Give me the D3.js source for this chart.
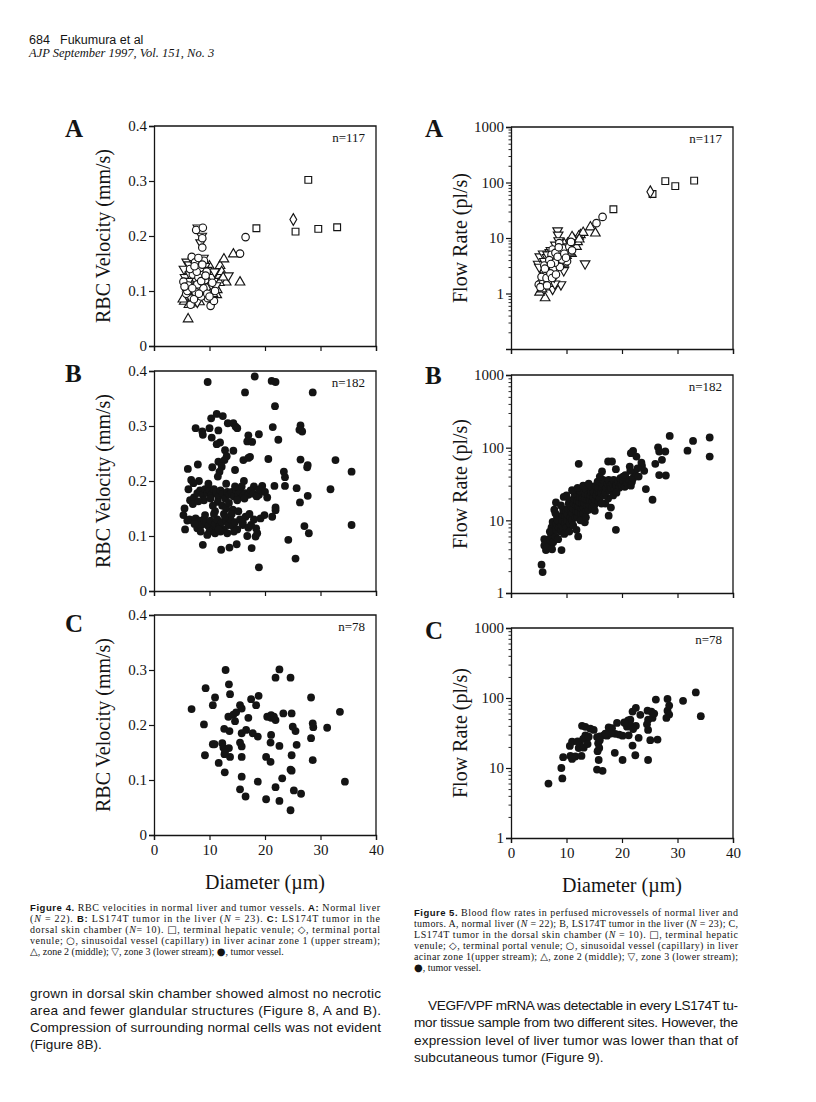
<!DOCTYPE html>
<html><head><meta charset="utf-8">
<script src="https://cdn.jsdelivr.net/npm/d3@7"></script>
<style>body{margin:0;background:#fff}svg{display:block}</style>
</head><body>
<script>
// ---------- DATA (diameter µm, value) ----------
// Fig 4A normal liver, RBC velocity (mm/s)
const velA_square = [[27.8,0.302],[18.45,0.214],[25.5,0.208],[29.6,0.213],[33.0,0.216]];
const velA_diamond = [[25.1,0.230]];
const velA_circle = [[16.5,0.198],[15.5,0.168],[5.3,0.117],[6.8,0.162],[7.4,0.152],[6.6,0.075],[10.2,0.073],[9.7,0.087],[7.6,0.211],[8.8,0.215],[8.7,0.196],[8.7,0.179],[7.0,0.13],[8.0,0.125],[8.3,0.142],[9.2,0.12],[6.2,0.11],[7.5,0.098],[8.9,0.105],[9.5,0.135],[10.5,0.115],[7.2,0.085],[8.5,0.09],[6.5,0.14],[9.0,0.155],[8.0,0.16],[11.0,0.1],[7.8,0.112],[5.8,0.095],[6.0,0.1],[7.7,0.135],[8.5,0.118],[9.6,0.095],[10.8,0.082],[6.9,0.105],[8.1,0.095],[9.3,0.128],[5.5,0.108],[7.3,0.145],[8.7,0.148],[10.0,0.09]];
const velA_triUp = [[6.15,0.049],[5.45,0.081],[5.8,0.09],[11.3,0.093],[10.25,0.132],[11.0,0.12],[11.9,0.146],[12.6,0.158],[13.0,0.116],[14.3,0.167],[15.5,0.116],[9.8,0.128],[10.8,0.108],[10.3,0.1],[9.5,0.112],[8.2,0.08],[7.0,0.078],[6.0,0.105],[8.6,0.1],[11.5,0.128],[12.2,0.135],[10.0,0.145],[9.0,0.09],[6.4,0.12],[7.4,0.14],[5.2,0.085],[6.7,0.093],[7.9,0.09],[9.1,0.105],[10.6,0.095],[11.8,0.115],[12.5,0.125],[8.8,0.125],[7.5,0.105],[6.3,0.075],[9.9,0.118],[11.4,0.102]];
const velA_triDown = [[7.9,0.215],[8.4,0.188],[8.6,0.2],[8.9,0.16],[5.9,0.153],[6.3,0.148],[13.4,0.128],[7.2,0.125],[6.0,0.135],[8.0,0.105],[9.4,0.1],[10.5,0.125],[7.6,0.118],[6.8,0.1],[9.8,0.108],[8.3,0.132],[11.2,0.11],[5.6,0.125],[7.0,0.155],[9.2,0.145],[6.6,0.088],[5.4,0.14],[6.5,0.13],[7.5,0.092],[8.7,0.112],[9.6,0.138],[10.3,0.112],[7.1,0.108],[8.1,0.142],[9.0,0.118],[6.2,0.118],[7.8,0.08],[10.9,0.135]];

// Fig 4B LS174T tumor in liver, RBC velocity
const velB = [[9.67,0.38],[18.15,0.39],[21.2,0.382],[21.9,0.380],[16.4,0.361],[28.6,0.361],[21.8,0.336],
[10.3,0.314],[11.3,0.322],[12.4,0.318],[7.5,0.296],[8.7,0.29],[8.8,0.284],[10.0,0.296],[11.6,0.292],[10.4,0.279],[11.9,0.27],[11.3,0.267],[13.3,0.305],[14.3,0.305],[14.7,0.299],[15.0,0.296],[17.0,0.283],[18.9,0.285],[16.8,0.272],[17.7,0.271],[21.4,0.298],[22.4,0.275],[26.4,0.301],[26.2,0.293],[26.7,0.29],
[6.1,0.222],[7.9,0.23],[12.8,0.256],[14.3,0.255],[13.1,0.245],[12.7,0.238],[11.6,0.235],[12.2,0.226],[11.8,0.217],[11.5,0.208],[14.6,0.22],[16.1,0.238],[17.3,0.244],[17.0,0.242],[20.6,0.24],[23.4,0.217],[23.6,0.207],[26.4,0.239],[27.7,0.229],[27.6,0.225],[32.7,0.238],[35.6,0.217],
[6.7,0.202],[8.1,0.2],[7.1,0.196],[16.2,0.2],[18.0,0.19],[19.5,0.191],[21.7,0.191],[23.6,0.191],[25.7,0.187],[27.7,0.173],[31.8,0.185],[21.9,0.152],[26.3,0.161],[35.6,0.12],[27.1,0.118],[27.9,0.105],[24.2,0.093],[25.5,0.059],[18.9,0.043],[17.6,0.078],[18.3,0.099],[18.4,0.114],[19.2,0.132],[19.9,0.138],[21.9,0.147],[21.3,0.135],[20.4,0.17],[18.9,0.175],
[6.5,0.165],[7.2,0.17],[7.8,0.178],[8.3,0.183],[8.8,0.175],[9.2,0.185],[9.6,0.178],[10.0,0.183],[10.4,0.176],[10.8,0.185],[11.2,0.18],[11.6,0.172],[12.0,0.183],[12.4,0.177],[12.8,0.168],[13.2,0.18],[13.6,0.175],[14.0,0.18],[14.4,0.172],[14.8,0.183],[15.2,0.176],[15.6,0.18],[16.0,0.172],[16.5,0.178],[17.0,0.175],[17.4,0.183],[17.9,0.177],[18.5,0.172],[9.0,0.165],[10.2,0.168],[11.5,0.162],[12.3,0.155],[13.0,0.15],[13.5,0.16],[14.2,0.148],[7.0,0.158],[8.0,0.163],[10.6,0.155],[11.0,0.145],[12.6,0.14],[15.0,0.165],[16.3,0.168],
[5.5,0.15],[5.3,0.138],[5.6,0.112],[7.8,0.114],[8.8,0.084],[12.1,0.075],[13.6,0.079],[14.9,0.085],[6.4,0.13],[7.0,0.128],[7.5,0.132],[8.2,0.128],[8.6,0.12],[9.0,0.13],[9.4,0.125],[9.8,0.118],[10.2,0.128],[10.6,0.112],[11.0,0.122],[11.4,0.13],[11.8,0.118],[12.2,0.125],[12.6,0.112],[13.0,0.128],[13.4,0.12],[13.8,0.13],[14.2,0.118],[14.6,0.125],[15.0,0.112],[15.5,0.13],[16.0,0.12],[16.5,0.135],[17.0,0.115],[17.5,0.12],[10.0,0.108],[11.0,0.105],[12.0,0.108],[13.2,0.105],[14.4,0.108],[9.2,0.138],[10.8,0.14],[12.8,0.135],[14.0,0.14],[15.2,0.145],[6.0,0.128],[8.4,0.108],[16.8,0.1],[18.0,0.13],[17.2,0.14],[11.6,0.112],[9.6,0.102],[7.3,0.122],
[19.0,0.185],[20.0,0.18],[15.8,0.19],[14.6,0.19],[6.2,0.185],[9.8,0.195],[13.0,0.195],[10.5,0.225],[16.0,0.125],[18.6,0.105]];

// Fig 4C LS174T tumor in dorsal skin chamber, RBC velocity
const velC = [[6.77,0.229],[9.3,0.267],[9.0,0.201],[9.18,0.145],[11.0,0.25],[10.6,0.236],[10.6,0.165],[11.66,0.131],[12.9,0.3],[13.5,0.274],[13.7,0.256],[12.3,0.167],[12.5,0.159],[12.65,0.193],[12.7,0.147],[12.75,0.114],[13.4,0.215],[13.6,0.189],[13.5,0.158],[14.3,0.219],[14.6,0.207],[15.5,0.236],[15.8,0.23],[15.8,0.185],[15.8,0.161],[15.5,0.168],[15.8,0.142],[15.8,0.106],[15.5,0.083],[16.5,0.07],[17.0,0.213],[16.6,0.191],[17.5,0.247],[18.4,0.236],[18.85,0.253],[17.8,0.185],[18.7,0.179],[18.7,0.097],[20.2,0.142],[20.2,0.065],[20.4,0.215],[21.1,0.218],[21.1,0.213],[21.1,0.182],[21.0,0.168],[21.0,0.133],[21.9,0.286],[22.6,0.301],[21.9,0.209],[21.9,0.087],[22.6,0.162],[22.6,0.062],[23.3,0.221],[23.1,0.103],[24.6,0.286],[24.8,0.221],[24.8,0.145],[24.6,0.119],[24.8,0.117],[24.6,0.045],[25.0,0.197],[25.5,0.189],[25.2,0.081],[25.7,0.164],[26.5,0.075],[28.3,0.25],[28.3,0.176],[28.6,0.203],[28.7,0.196],[28.6,0.136],[31.2,0.195],[33.5,0.224],[34.4,0.097],[14.8,0.223],[10.9,0.165],[12.8,0.151],[21.6,0.215],[13.7,0.142]];

// Fig 5A normal liver, flow rate (pl/s)
const flowA_square = [[18.45,33],[25.5,62],[27.8,106],[29.6,86],[33.0,108]];
const flowA_diamond = [[25.1,68]];
const flowA_circle = [[16.5,24],[15.4,18.5],[5.0,1.45],[5.8,1.55],[6.6,1.6],[7.5,6.2],[8.7,8.1],[9.8,5.7],[10.1,3.8],[6.2,2.2],[7.0,3.0],[7.8,4.2],[8.2,3.5],[9.0,4.8],[6.8,2.6],[7.3,5.0],[8.5,5.8],[9.4,6.5],[5.5,2.0],[6.0,3.2],[7.6,2.8],[8.8,3.0],[10.5,7.0],[11.0,6.0],[6.4,1.9],[7.1,2.3],[8.0,5.4],[9.2,4.1],[5.3,1.3],[6.9,4.0],[7.9,3.6],[8.4,4.6],[9.6,5.2],[10.8,8.5],[6.1,2.8],[7.4,1.9],[8.6,6.8],[9.9,4.4],[7.2,3.4],[8.1,2.2],[6.5,1.4]];
const flowA_triUp = [[6.15,0.83],[5.15,1.05],[14.3,15.7],[15.2,12.2],[12.5,11.4],[12.2,10.7],[13.0,12.5],[11.6,8.7],[10.9,5.2],[11.3,9.5],[10.5,6.0],[9.8,7.0],[9.2,6.0],[8.5,3.8],[7.7,2.5],[7.0,1.8],[6.4,1.3],[5.6,1.2],[8.0,4.5],[9.5,3.5],[10.2,8.0],[11.8,7.0],[12.0,8.5],[6.8,3.5],[7.5,4.8],[8.8,5.5],[10.0,4.8],[11.0,10.5],[5.9,2.4],[6.6,2.0],[7.3,3.0],[8.3,6.5],[9.0,3.2],[10.6,5.5],[12.3,9.5],[9.6,7.8],[5.3,1.6]];
const flowA_triDown = [[13.35,3.45],[8.4,13.6],[8.5,11.4],[4.9,3.4],[5.2,4.6],[5.8,5.2],[7.5,1.2],[9.0,1.45],[7.9,1.5],[6.5,4.5],[7.0,5.5],[8.0,7.5],[8.6,9.0],[9.3,7.0],[6.0,3.8],[6.8,3.0],[7.6,4.0],[8.2,2.8],[9.1,5.0],[10.2,6.5],[5.5,2.8],[6.3,2.5],[7.2,6.0],[8.9,4.2],[9.7,6.2],[10.8,7.5],[5.1,3.0],[6.6,5.0],[7.8,2.0],[8.7,3.4],[6.2,1.6],[7.4,3.8],[9.5,2.6]];

// Fig 5B LS174T tumor in liver, flow rate
const flowB = [[12.2,60],[28.6,145],[31.8,91],[32.8,124],[35.8,138],[35.8,75.5],[5.5,2.45],[5.7,1.94],[18.9,7.4],[17.6,11.6],[25.5,19.2],[24.3,26.9],[12.1,6.0],[13.3,9.4],[11.8,7.4],[26.5,101],[26.7,88.5],[27.8,88.5],[27.2,68],[26.0,60],[26.7,42],[27.9,41.4],[22.0,90],[21.6,84],[22.6,75.5],[23.6,56],[23.5,62],[21.4,55],[18.9,50.6],[17.5,64.5],[18.2,64.5],[16.4,47],[6.3,3.9],[9.1,3.9],[7.0,4.6],[17.0,17],[17.5,20],
[6.0,4.5],[6.2,5.0],[6.5,4.2],[6.0,5.5],
[7.0,5.5],[7.2,6.5],[7.3,8.0],[7.5,9.5],[7.0,7.0],[7.6,5.0],[7.4,4.0],
[8.0,6.0],[8.1,7.5],[8.2,9.0],[8.3,11.0],[8.0,12.5],[8.1,17.6],[8.5,5.5],[8.6,8.0],[8.4,10.0],[7.8,14.0],
[9.0,7.0],[9.1,8.5],[9.2,10.0],[9.3,12.0],[9.4,14.0],[9.5,21],[9.0,16],[9.6,6.5],[9.7,9.0],[9.8,11.5],[9.9,13.0],
[10.0,8.0],[10.1,10.0],[10.2,12.0],[10.3,14.5],[10.4,17.0],[10.5,19.0],[10.0,22.0],[10.6,9.0],[10.7,11.0],[10.8,13.0],[10.9,15.5],[10.5,7.0],
[11.0,10.0],[11.1,12.5],[11.2,14.5],[11.3,17.0],[11.4,20.0],[11.5,23.0],[11.0,26.0],[11.6,11.0],[11.7,13.5],[11.8,16.0],[11.9,18.5],[11.2,8.5],
[12.0,11.0],[12.1,13.0],[12.2,15.5],[12.3,18.0],[12.4,21.0],[12.5,25.0],[12.0,28.0],[12.6,12.0],[12.7,14.5],[12.8,17.0],[12.9,20.0],[12.5,10.0],
[13.0,12.5],[13.1,15.0],[13.2,17.5],[13.3,20.0],[13.4,23.0],[13.5,27.0],[13.0,30.0],[13.6,13.5],[13.7,16.0],[13.8,19.0],[13.9,22.5],[13.5,11.0],
[14.0,14.0],[14.1,16.5],[14.2,19.0],[14.3,22.0],[14.4,25.0],[14.5,29.0],[14.0,32.0],[14.6,15.0],[14.7,18.0],[14.8,21.0],[14.9,24.5],
[15.0,16.0],[15.2,19.0],[15.4,22.0],[15.5,26.0],[15.3,30.0],[15.6,34.0],[15.8,18.0],[15.9,24.0],[15.7,28.0],[15.1,13.5],
[16.0,20.0],[16.2,24.0],[16.4,28.0],[16.5,32.0],[16.6,36.0],[16.8,22.0],[16.9,26.0],[16.3,17.0],[16.0,40],
[17.0,24.0],[17.2,28.0],[17.4,32.0],[17.6,36.0],[17.8,26.0],[17.9,30.0],
[18.0,28.0],[18.3,32.0],[18.5,36.0],[18.7,27.0],[18.9,31.0],
[19.0,30.0],[19.3,34.0],[19.5,28.0],[19.8,32.0],[19.7,38],
[20.0,30.0],[20.3,34.0],[20.5,29.0],[20.8,33.0],[20.2,40],
[21.0,32.0],[21.3,36.0],[21.6,30.0],[21.8,34.0],[22.0,38.0],[22.3,45.0],[21.5,48.0],
[18.0,15],[18.4,22],[19.0,24],[20.6,42],[23.0,40],[24.0,48],[22.8,52]];

// Fig 5C LS174T tumor in dorsal skin chamber, flow rate
const flowC = [[6.75,6.0],[9.07,10.0],[9.25,7.1],[9.4,14.3],[10.6,20.7],[11.0,23.8],[10.7,14.9],[11.6,14.6],[12.7,14.9],[12.2,19.3],[12.4,22.5],[12.8,40],[13.4,38.7],[13.1,19.5],[13.4,29.3],[13.7,26.3],[13.0,26],[13.8,22],[14.3,36.5],[14.9,35],[15.5,27.7],[16.0,28.2],[15.7,22.5],[15.9,19.3],[15.6,17.4],[15.8,13.0],[15.5,9.5],[16.5,9.1],[16.7,29.3],[17.3,29],[17.6,37.9],[18.2,37],[19.1,44],[18.8,30.8],[18.7,16.5],[18.0,31],[20.1,29],[20.1,13.0],[20.4,45],[20.9,39],[21.1,48],[21.2,29.3],[21.5,49],[21.9,64],[22.5,72.5],[21.9,20.9],[22.4,15.2],[22.5,40],[23.0,27],[23.3,57.5],[24.6,66],[24.7,49],[24.7,35],[24.7,13.0],[25.1,25],[25.3,64],[25.5,52],[26.1,95],[26.4,25.5],[28.2,97],[28.2,66],[28.5,58],[28.5,78],[31.0,91],[33.3,120],[34.2,55],[11.0,13.5],[14.0,28],[17.0,31],[19.5,30],[21.4,43],[22.0,36],[24.5,42],[25.8,60],[12.0,24],[16.0,25],[28.0,52],[20.5,44]];

// axis ticks
const xTicks = [0,10,20,30,40];
const velTicks = [0,0.1,0.2,0.3,0.4];
const velTickLabels = ["0","0.1","0.2","0.3","0.4"];
const flowTicks = [1,10,100,1000];
const flowTickLabels = ["1","10","100","1000"];

// ---------- DRAWING ----------
const W=816,H=1102;
const SERIF='"Liberation Serif","Times New Roman",serif';
const SANS='"Liberation Sans",Arial,sans-serif';
const INK='#141414';
const svg=d3.select("body").append("svg").attr("width",W).attr("height",H).style("background","#fff");

const shapes = {
  square: d3.symbol().type(d3.symbolSquare).size(46)(),
  diamond: d3.symbol().type(d3.symbolDiamond).size(40)(),
  circle: d3.symbol().type(d3.symbolCircle).size(44)(),
  triUp: d3.symbol().type(d3.symbolTriangle).size(40)(),
  triDown: d3.symbol().type(d3.symbolTriangle).size(40)()
};

function panel(o){
  const g=svg.append("g");
  const x=d3.scaleLinear().domain([0,40]).range([o.x0,o.x1]);
  const y=o.log ? d3.scaleLog().domain(o.yDomain).range([o.yBot,o.yTop])
                : d3.scaleLinear().domain(o.yDomain).range([o.yBot,o.yTop]);
  g.append("path").attr("d",`M${o.x0},${o.yTop}H${o.x1}V${o.yBot}`)
    .attr("fill","none").attr("stroke",INK).attr("stroke-width",1.3);
  const ya=d3.axisLeft(y).tickValues(o.yTicks).tickFormat((d,i)=>o.yLabels[i]).tickSize(5).tickPadding(2);
  const yg=g.append("g").attr("transform",`translate(${o.x0},0)`).call(ya);
  if(o.log){
    const minor=[];
    const lo=Math.round(Math.log10(o.yDomain[0])), hi=Math.round(Math.log10(o.yDomain[1]));
    for(let e=lo;e<hi;e++) for(let k=2;k<=9;k++) minor.push(k*Math.pow(10,e));
    g.append("g").attr("transform",`translate(${o.x0},0)`)
      .call(d3.axisLeft(y).tickValues(minor).tickFormat("").tickSize(2.5))
      .call(s=>s.select(".domain").remove())
      .selectAll("line").attr("stroke",INK).attr("stroke-width",0.9);
  }
  const xa=d3.axisBottom(x).tickValues(xTicks).tickSize(5).tickPadding(4)
    .tickFormat(o.xLabels? d3.format("d") : "");
  const xg=g.append("g").attr("transform",`translate(0,${o.yBot})`).call(xa);
  [yg,xg].forEach(s=>{
    s.select(".domain").attr("stroke",INK).attr("stroke-width",1.3);
    s.selectAll(".tick line").attr("stroke",INK).attr("stroke-width",1.2);
    s.selectAll("text").attr("font-family",SERIF).attr("font-size",15).attr("fill",INK);
  });
  o.series.forEach(sr=>{
    if(sr.filled){
      g.append("g").selectAll("circle").data(sr.data).join("circle")
        .attr("cx",d=>x(d[0])).attr("cy",d=>y(d[1])).attr("r",3.9).attr("fill",INK);
    } else {
      g.append("g").selectAll("path").data(sr.data).join("path")
        .attr("d",shapes[sr.shape])
        .attr("transform",d=>`translate(${x(d[0])},${y(d[1])})`+(sr.shape==="triDown"?" rotate(180)":""))
        .attr("fill","#fff").attr("stroke",INK).attr("stroke-width",1.15);
    }
  });
  g.append("text").attr("x",o.x1-11).attr("y",o.yTop+16).attr("text-anchor","end")
    .attr("font-family",SERIF).attr("font-size",13).attr("fill",INK).text(o.n);
  g.append("text").attr("x",o.letterX).attr("y",o.letterY).attr("font-family",SERIF)
    .attr("font-weight","bold").attr("font-size",25).attr("fill",INK).text(o.letter);
  g.append("text").attr("transform",`translate(${o.titleX},${(o.yTop+o.yBot)/2}) rotate(-90)`)
    .attr("text-anchor","middle").attr("font-family",SERIF).attr("font-size",20).attr("fill",INK).text(o.title);
  if(o.xTitleY){
    g.append("text").attr("x",(o.x0+o.x1)/2).attr("y",o.xTitleY).attr("text-anchor","middle")
      .attr("font-family",SERIF).attr("font-size",20).attr("fill",INK).text("Diameter (\u00b5m)");
  }
}

const openA = (sq,di,ci,tu,td)=>[
  {shape:"square",data:sq},{shape:"diamond",data:di},{shape:"triUp",data:tu},
  {shape:"triDown",data:td},{shape:"circle",data:ci}];

const L={x0:154,x1:376}, R={x0:511,x1:733};
const velTitle="RBC Velocity (mm/s)", flowTitle="Flow Rate (pl/s)";

panel({...L,yTop:126,yBot:346,yDomain:[0,0.4],yTicks:velTicks,yLabels:velTickLabels,letter:"A",letterX:65,letterY:137,
  title:velTitle,titleX:110,n:"n=117",series:openA(velA_square,velA_diamond,velA_circle,velA_triUp,velA_triDown)});
panel({...L,yTop:371,yBot:591,yDomain:[0,0.4],yTicks:velTicks,yLabels:velTickLabels,letter:"B",letterX:65,letterY:382,
  title:velTitle,titleX:110,n:"n=182",series:[{filled:true,data:velB}]});
panel({...L,yTop:615,yBot:835,yDomain:[0,0.4],yTicks:velTicks,yLabels:velTickLabels,letter:"C",letterX:65,letterY:632,
  title:velTitle,titleX:110,n:"n=78",series:[{filled:true,data:velC}],xLabels:true,xTitleY:889});

panel({...R,log:true,yTop:127,yBot:349,yDomain:[0.1,1000],yTicks:flowTicks,yLabels:flowTickLabels,letter:"A",letterX:425,letterY:137,
  title:flowTitle,titleX:467,n:"n=117",series:openA(flowA_square,flowA_diamond,flowA_circle,flowA_triUp,flowA_triDown)});
panel({...R,log:true,yTop:375,yBot:593,yDomain:[1,1000],yTicks:flowTicks,yLabels:flowTickLabels,letter:"B",letterX:425,letterY:384,
  title:flowTitle,titleX:467,n:"n=182",series:[{filled:true,data:flowB}]});
panel({...R,log:true,yTop:628,yBot:838,yDomain:[1,1000],yTicks:flowTicks,yLabels:flowTickLabels,letter:"C",letterX:425,letterY:639,
  title:flowTitle,titleX:467,n:"n=78",series:[{filled:true,data:flowC}],xLabels:true,xTitleY:892});

// ---------- PAGE TEXT ----------
function line(x,y,parts,opts){
  const t=svg.append("text").attr("x",x).attr("y",y).attr("fill",INK)
    .attr("font-family",opts.family).attr("font-size",opts.size);
  parts.forEach(p=>{
    const s=t.append("tspan").text(p.t);
    if(p.b){s.attr("font-family",SANS).attr("font-weight","bold").attr("font-size",opts.size*0.95);}
    if(p.i){s.attr("font-style","italic");}
    if(p.f){s.attr("font-family",p.f);}
  });
  if(opts.width){t.attr("textLength",opts.width).attr("lengthAdjust","spacing");}
  return t;
}
line(29,44,[{t:"684"}],{family:SANS,size:12.5});
line(60,44,[{t:"Fukumura et al"}],{family:SANS,size:12.5});
line(29,57,[{t:"AJP September 1997, Vol. 151, No. 3"}],{family:SERIF,size:12.5}).attr("font-style","italic");

const cap={family:SERIF,size:10};
const SYM='"DejaVu Sans",sans-serif';
line(30,911,[{t:"Figure 4.",b:1},{t:" RBC velocities in normal liver and tumor vessels. "},{t:"A:",b:1},{t:" Normal liver"}],{...cap,width:350});
line(30,922,[{t:"("},{t:"N",i:1},{t:" = 22). "},{t:"B:",b:1},{t:" LS174T tumor in the liver ("},{t:"N",i:1},{t:" = 23). "},{t:"C:",b:1},{t:" LS174T tumor in the"}],{...cap,width:350});
line(30,933,[{t:"dorsal skin chamber ("},{t:"N",i:1},{t:"= 10). "},{t:"\u25a1",f:SYM},{t:", terminal hepatic venule; "},{t:"\u25c7",f:SYM},{t:", terminal portal"}],{...cap,width:350});
line(30,944,[{t:"venule; "},{t:"\u25cb",f:SYM},{t:", sinusoidal vessel (capillary) in liver acinar zone 1 (upper stream);"}],{...cap,width:350});
line(30,955,[{t:"\u25b3",f:SYM},{t:", zone 2 (middle); "},{t:"\u25bd",f:SYM},{t:", zone 3 (lower stream); "},{t:"\u25cf",f:SYM},{t:", tumor vessel."}],cap);

line(414,916,[{t:"Figure 5.",b:1},{t:" Blood flow rates in perfused microvessels of normal liver and"}],{...cap,width:324});
line(414,927,[{t:"tumors. A, normal liver ("},{t:"N",i:1},{t:" = 22); B, LS174T tumor in the liver ("},{t:"N",i:1},{t:" = 23); C,"}],{...cap,width:324});
line(414,938,[{t:"LS174T tumor in the dorsal skin chamber ("},{t:"N",i:1},{t:" = 10). "},{t:"\u25a1",f:SYM},{t:", terminal hepatic"}],{...cap,width:324});
line(414,949,[{t:"venule; "},{t:"\u25c7",f:SYM},{t:", terminal portal venule; "},{t:"\u25cb",f:SYM},{t:", sinusoidal vessel (capillary) in liver"}],{...cap,width:324});
line(414,960,[{t:"acinar zone 1(upper stream); "},{t:"\u25b3",f:SYM},{t:", zone 2 (middle); "},{t:"\u25bd",f:SYM},{t:", zone 3 (lower stream);"}],{...cap,width:324});
line(414,971,[{t:"\u25cf",f:SYM},{t:", tumor vessel."}],cap);

const body={family:SANS,size:13.6};
line(30,998,[{t:"grown in dorsal skin chamber showed almost no necrotic"}],{...body,width:351});
line(30,1015,[{t:"area and fewer glandular structures (Figure 8, A and B)."}],{...body,width:351});
line(30,1032,[{t:"Compression of surrounding normal cells was not evident"}],{...body,width:351});
line(30,1049,[{t:"(Figure 8B)."}],body);

line(428,1010,[{t:"VEGF/VPF mRNA was detectable in every LS174T tu-"}],{...body,width:310});
line(414,1027,[{t:"mor tissue sample from two different sites. However, the"}],{...body,width:324});
line(414,1045,[{t:"expression level of liver tumor was lower than that of"}],{...body,width:324});
line(414,1062,[{t:"subcutaneous tumor (Figure 9)."}],body);
</script>
</body></html>
